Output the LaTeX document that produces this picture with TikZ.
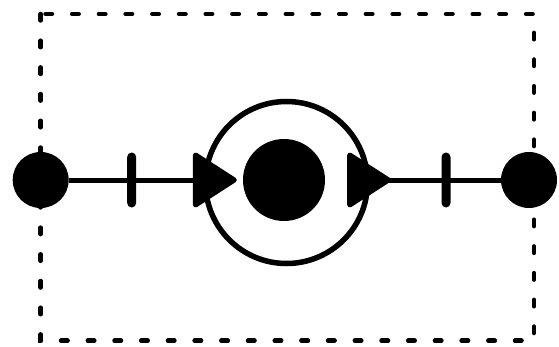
\documentclass[tikz,border=0pt]{standalone}
\usepackage{tikz}
\usetikzlibrary{arrows.meta,positioning}

\begin{document}
\begin{tikzpicture}[
  x=1pt, y=1pt,
  port/.style={circle, fill=black, inner sep=0pt, minimum size=56pt},
  ring/.style={circle, draw=black, line width=5.5pt, inner sep=0pt, minimum size=162pt},
  core/.style={circle, fill=black, inner sep=0pt, minimum size=82pt},
  bar/.style={fill=black, rounded corners=4.5pt, inner sep=0pt, minimum width=9pt, minimum height=55pt},
  link/.style={line width=5pt},
  head/.style={line width=5pt, -{Triangle[length=46pt, width=58pt, round]}},
  boundary/.style={line width=4.5pt, line cap=round, dash pattern=on 6.5pt off 20.2pt},
]
\useasboundingbox (0,0) rectangle (559,346);

\node[ring] (wrap) at (286.5,163.5) {};
\node[core] (core) at (284,166) {};
\node[port] (src) at (40.7,166) {};
\node[port] (dst) at (529,166) {};
\node[bar] (barL) at (131.7,166) {};
\node[bar] (barR) at (446,166) {};

\draw[head, shorten >=6pt] (src) -- (core);
\draw[link, {Triangle[length=46pt, width=58pt, round, reversed]}-, shorten <=22pt] (core) -- (dst);

\draw[boundary] (40.7,332) rectangle (534,5.3);

\end{tikzpicture}
\end{document}
